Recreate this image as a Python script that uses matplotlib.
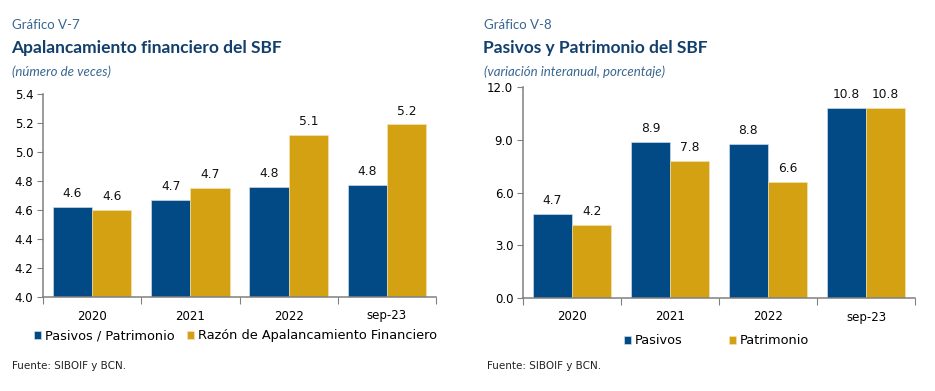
import matplotlib.pyplot as plt
import numpy as np

categories = ["2020", "2021", "2022", "sep-23"]

# Gráfico V-7
pasivos_patrimonio = [4.62, 4.67, 4.76, 4.77]
razon_apalancamiento = [4.60, 4.75, 5.12, 5.19]
labels_pp = ["4.6", "4.7", "4.8", "4.8"]
labels_ra = ["4.6", "4.7", "5.1", "5.2"]

# Gráfico V-8
pasivos = [4.78, 8.89, 8.78, 10.79]
patrimonio = [4.17, 7.77, 6.60, 10.79]
labels_pas = ["4.7", "8.9", "8.8", "10.8"]
labels_pat = ["4.2", "7.8", "6.6", "10.8"]

blue = "#014A85"
gold = "#D4A113"
title_col = "#123F6C"
head_col = "#3A6690"

W, H = 935, 391
fig = plt.figure(figsize=(W / 100, H / 100), dpi=100)


def px_axes(x0, y0, x1, y1):
    return fig.add_axes([x0 / W, 1 - y1 / H, (x1 - x0) / W, (y1 - y0) / H])


def draw_bars(ax, s1, s2, l1, l2, ylim, yticks, fmt):
    x = np.arange(len(categories))
    w = 0.4
    b1 = ax.bar(x - w / 2, s1, w, color=blue, edgecolor="#dfe8f0", linewidth=0.4)
    b2 = ax.bar(x + w / 2, s2, w, color=gold, edgecolor="#f3e6bf", linewidth=0.4)
    for bars, labs in ((b1, l1), (b2, l2)):
        for r, t in zip(bars, labs):
            ax.annotate(t, (r.get_x() + r.get_width() / 2, r.get_height()),
                        xytext=(0, 5), textcoords="offset points",
                        ha="center", va="bottom", fontsize=8.8, color="#111111")
    ax.set_xlim(-0.5, len(categories) - 0.5)
    ax.set_ylim(*ylim)
    ax.set_yticks(yticks)
    ax.set_yticklabels([fmt % v for v in yticks], fontsize=8.5)
    ax.set_xticks(np.arange(len(categories) + 1) - 0.5)
    ax.set_xticklabels([])
    ax.set_xticks(x, minor=True)
    ax.set_xticklabels(categories, minor=True, fontsize=8.5)
    ax.tick_params(axis="x", which="major", length=5, color="#808080", direction="out")
    ax.tick_params(axis="x", which="minor", length=0, pad=9)
    ax.tick_params(axis="y", length=4, color="#808080", direction="out", pad=3)
    for s in ("top", "right"):
        ax.spines[s].set_visible(False)
    for s in ("left", "bottom"):
        ax.spines[s].set_color("#808080")
        ax.spines[s].set_linewidth(1.1)
    return b1, b2


ax1 = px_axes(43, 94, 436, 297)
h1 = draw_bars(ax1, pasivos_patrimonio, razon_apalancamiento, labels_pp, labels_ra,
               (4.0, 5.4), np.arange(4.0, 5.41, 0.2), "%.1f")
ax2 = px_axes(523, 87, 915, 298)
h2 = draw_bars(ax2, pasivos, patrimonio, labels_pas, labels_pat,
               (0, 12), np.arange(0, 12.1, 3.0), "%.1f")

# headers
fig.text(12 / W, 1 - 25 / H, "Gráfico V-7", fontsize=9.5, color=head_col, family="Lato", va="center")
fig.text(11 / W, 1 - 48 / H, "Apalancamiento financiero del SBF", fontsize=12.5, color=title_col,
         family="Lato", weight="bold", va="center")
fig.text(12 / W, 1 - 72 / H, "(número de veces)", fontsize=9.5, color=head_col, family="Lato",
         style="italic", va="center")

fig.text(484 / W, 1 - 25 / H, "Gráfico V-8", fontsize=9.5, color=head_col, family="Lato", va="center")
fig.text(483 / W, 1 - 48 / H, "Pasivos y Patrimonio del SBF", fontsize=12.5, color=title_col,
         family="Lato", weight="bold", va="center")
fig.text(484 / W, 1 - 72 / H, "(variación interanual, porcentaje)", fontsize=9.5, color=head_col,
         family="Lato", style="italic", va="center")

# legends
fig.legend(h1, ["Pasivos / Patrimonio", "Razón de Apalancamiento Financiero"],
           loc="center left", bbox_to_anchor=(22 / W, 1 - 336 / H), ncol=2, frameon=False,
           fontsize=9.3, handlelength=0.55, handleheight=0.55, handletextpad=0.3, columnspacing=1.0)
fig.legend(h2, ["Pasivos", "Patrimonio"],
           loc="center left", bbox_to_anchor=(612 / W, 1 - 341 / H), ncol=2, frameon=False,
           fontsize=9.3, handlelength=0.55, handleheight=0.55, handletextpad=0.3, columnspacing=3.6)

fig.text(12 / W, 1 - 366 / H, "Fuente: SIBOIF y BCN.", fontsize=7.5, color="#222222", va="center")
fig.text(487 / W, 1 - 366 / H, "Fuente: SIBOIF y BCN.", fontsize=7.5, color="#222222", va="center")

fig.savefig("out.png", dpi=100)
